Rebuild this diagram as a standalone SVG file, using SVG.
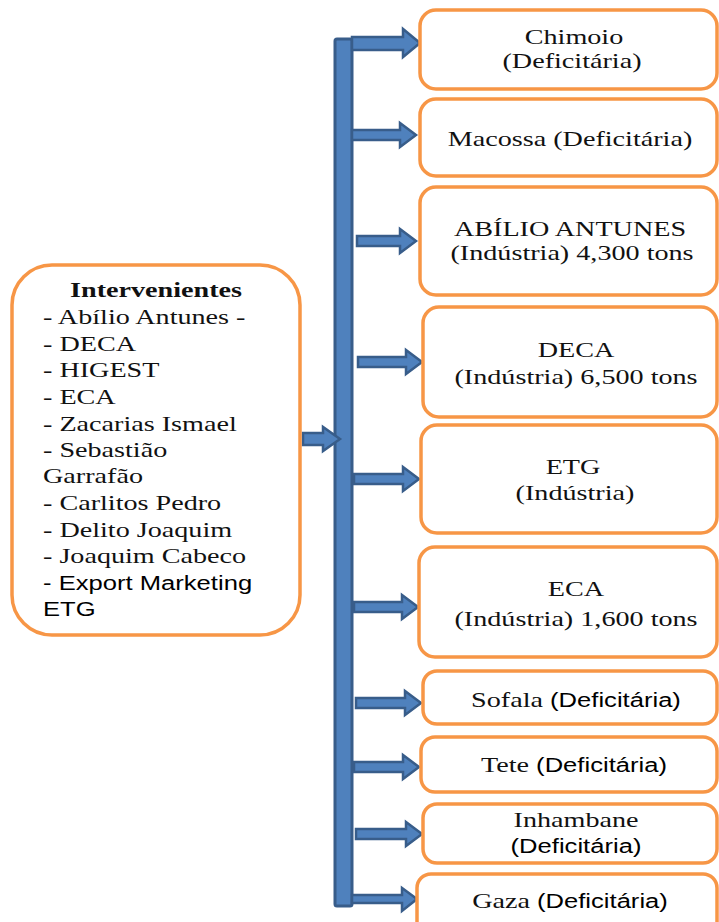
<svg xmlns="http://www.w3.org/2000/svg" width="719" height="922" viewBox="0 0 719 922">
  <style>
    .box { fill: #ffffff; stroke: #F79646; stroke-width: 3.5; }
    .bar { fill: #4F81BD; stroke: #385D8A; stroke-width: 3; stroke-linejoin: round; }
    .arr { fill: #4F81BD; stroke: #385D8A; stroke-width: 2.5; stroke-linejoin: miter; }
    .serif { font-family: "Liberation Serif", "Times New Roman", serif; font-size: 22px; fill: #111111; }
    .sans { font-family: "Liberation Sans", Arial, sans-serif; font-size: 20px; fill: #000000; }
    .bold { font-weight: bold; }
    .mid { text-anchor: middle; }
  </style>

  <g id="connectors">
    <!-- vertical trunk -->
    <rect class="bar" x="335" y="39" width="17" height="867" rx="2"/>
    <!-- feed from the left box into the trunk -->
    <polygon class="arr" points="303,433 323,433 323,427 340,439 323,451 323,445 303,445"/>
    <!-- branches to the right -->
    <polygon class="arr" points="352,37 403,37 403,29 420,43 403,57 403,50 352,50"/>
    <polygon class="arr" points="352,130 400,130 400,123 416,135 400,147 400,140 352,140"/>
    <polygon class="arr" points="357,236 400,236 400,229 416,241 400,253 400,246 357,246"/>
    <polygon class="arr" points="358,357 406,357 406,350 422,362 406,374 406,367 358,367"/>
    <polygon class="arr" points="354,474 403,474 403,467 419,479 403,491 403,484 354,484"/>
    <polygon class="arr" points="354,602 402,602 402,595 418,607 402,619 402,612 354,612"/>
    <polygon class="arr" points="356,698 405,698 405,691 421,703 405,715 405,708 356,708"/>
    <polygon class="arr" points="354,762 403,762 403,755 419,767 403,779 403,772 354,772"/>
    <polygon class="arr" points="356,829 406,829 406,822 422,834 406,846 406,839 356,839"/>
    <polygon class="arr" points="352,895 402,895 402,888 417,899 402,911 402,903 352,903"/>
  </g>

  <g id="intervenientes">
    <rect class="box" x="12" y="265" width="288" height="370" rx="40"/>
    <text class="serif bold mid" transform="translate(156,297) scale(1.28,1)" x="0" y="0">Intervenientes</text>
    <g transform="translate(43,0) scale(1.28,1)">
      <text class="serif" x="0" y="324">- Abílio Antunes -</text>
      <text class="serif" x="0" y="351">- DECA</text>
      <text class="serif" x="0" y="377">- HIGEST</text>
      <text class="serif" x="0" y="404">- ECA</text>
      <text class="serif" x="0" y="431">- Zacarias Ismael</text>
      <text class="serif" x="0" y="457">- Sebastião</text>
      <text class="serif" x="0" y="483">Garrafão</text>
      <text class="serif" x="0" y="510">- Carlitos Pedro</text>
      <text class="serif" x="0" y="537">- Delito Joaquim</text>
      <text class="serif" x="0" y="563">- Joaquim Cabeco</text>
      <text class="sans" x="0" y="590">- Export Marketing</text>
      <text class="sans" x="0" y="616">ETG</text>
    </g>
  </g>

  <g id="chimoio">
    <rect class="box" x="420" y="10" width="297" height="79" rx="16"/>
    <text class="serif mid" transform="translate(574,44) scale(1.28,1)">Chimoio</text>
    <text class="serif mid" transform="translate(572,68) scale(1.28,1)">(Deficitária)</text>
  </g>

  <g id="macossa">
    <rect class="box" x="420" y="99" width="297" height="77" rx="16"/>
    <text class="serif mid" transform="translate(570,146) scale(1.28,1)">Macossa (Deficitária)</text>
  </g>

  <g id="abilio-antunes">
    <rect class="box" x="420" y="187" width="297" height="108" rx="16"/>
    <text class="serif mid" transform="translate(570,236) scale(1.28,1)">ABÍLIO ANTUNES</text>
    <text class="serif mid" transform="translate(572,260) scale(1.28,1)">(Indústria) 4,300 tons</text>
  </g>

  <g id="deca">
    <rect class="box" x="423" y="307" width="294" height="110" rx="16"/>
    <text class="serif mid" transform="translate(576,357) scale(1.28,1)">DECA</text>
    <text class="serif mid" transform="translate(576,384) scale(1.28,1)">(Indústria) 6,500 tons</text>
  </g>

  <g id="etg">
    <rect class="box" x="421" y="425" width="296" height="108" rx="16"/>
    <text class="serif mid" transform="translate(573,474) scale(1.28,1)">ETG</text>
    <text class="serif mid" transform="translate(575,500) scale(1.28,1)">(Indústria)</text>
  </g>

  <g id="eca">
    <rect class="box" x="419" y="547" width="298" height="110" rx="16"/>
    <text class="serif mid" transform="translate(576,596) scale(1.28,1)">ECA</text>
    <text class="serif mid" transform="translate(576,626) scale(1.28,1)">(Indústria) 1,600 tons</text>
  </g>

  <g id="sofala">
    <rect class="box" x="423" y="671" width="294" height="53" rx="14"/>
    <text class="serif mid" transform="translate(576,707) scale(1.28,1)">Sofala <tspan class="sans">(Deficitária)</tspan></text>
  </g>

  <g id="tete">
    <rect class="box" x="421" y="737" width="296" height="55" rx="14"/>
    <text class="serif mid" transform="translate(574,772) scale(1.28,1)">Tete <tspan class="sans">(Deficitária)</tspan></text>
  </g>

  <g id="inhambane">
    <rect class="box" x="423" y="804" width="294" height="59" rx="14"/>
    <text class="serif mid" transform="translate(576,827) scale(1.28,1)">Inhambane</text>
    <text class="sans mid" transform="translate(576,853) scale(1.28,1)">(Deficitária)</text>
  </g>

  <g id="gaza">
    <rect class="box" x="417" y="874" width="300" height="70" rx="14"/>
    <text class="serif mid" transform="translate(570,908) scale(1.28,1)">Gaza <tspan class="sans">(Deficitária)</tspan></text>
  </g>
</svg>
